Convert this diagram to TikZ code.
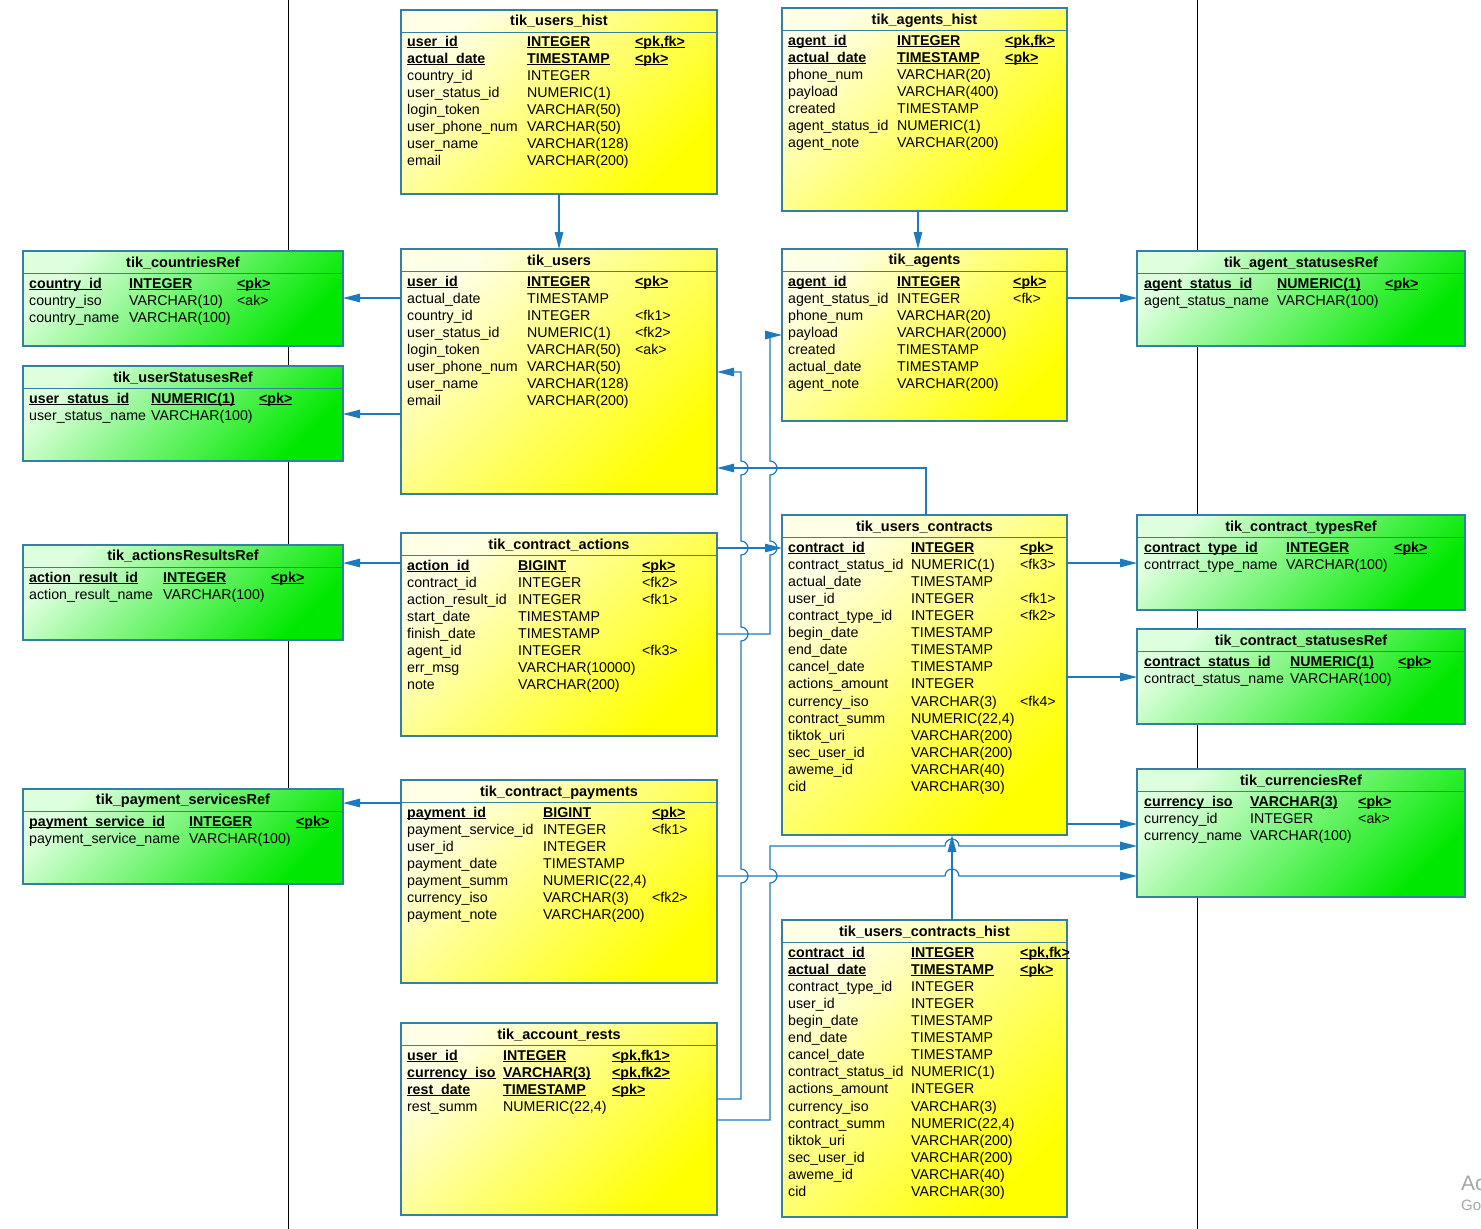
\documentclass[tikz,border=0pt]{standalone}
\usepackage{fontspec}
\setmainfont{Liberation Sans}
\usetikzlibrary{arrows.meta}
\definecolor{erb}{RGB}{52,128,160}
\definecolor{conn}{RGB}{30,122,190}
\definecolor{ylo}{RGB}{255,255,0}
\definecolor{ylight}{RGB}{255,255,230}
\definecolor{gdark}{RGB}{0,232,0}
\definecolor{glight}{RGB}{222,255,222}
\newsavebox\ulbox
\newcommand{\ulx}[1]{\leavevmode\sbox\ulbox{#1}\rlap{\rule[-2pt]{\wd\ulbox}{1.1pt}}\usebox\ulbox}
\newcommand{\pk}[1]{\ulx{\textbf{#1}}}
\tikzset{
  tbl/.style={draw=erb, line width=1.2pt, rectangle, inner sep=0pt, outer sep=0pt, anchor=north west},
  ytbl/.style={tbl, top color=ylight, bottom color=ylo, shading angle=45},
  gtbl/.style={tbl, top color=glight, bottom color=gdark, shading angle=45},
  sepline/.style={draw=erb, line width=1pt},
  ttl/.style={inner sep=0pt, anchor=base, font=\fontsize{14.5}{17}\selectfont\bfseries},
  body/.style={inner sep=0pt, anchor=north west, font=\fontsize{14.2}{17.1}\selectfont},
  fk/.style={draw=conn, line width=1.2pt, -{Triangle[length=17pt,width=8.5pt]}},
  pageline/.style={draw=black, line width=1pt},
  wm/.style={inner sep=0pt, anchor=base west, text=black!35}
}
\newcommand{\ertable}[8]{%
  \node[#2, minimum width={(#5-#3)*1pt}, minimum height={(#6-#4)*1pt}] (#1) at (#3,#4) {};
  \draw[sepline] (#3,#4+22) -- (#5,#4+22);
  \node[ttl] (#1-t) at ({(#3+#5)/2},#8+5) {#7};
}
\newcommand{\erbody}[6]{%
  \node[body] (#1-b) at (#2,#5-7) {\begin{tabular}{@{}p{#3pt}@{}p{#4pt}@{}l@{}}#6\end{tabular}};
}
\begin{document}
\begin{tikzpicture}[x=1pt,y=-1pt]
\fill[white] (0,0) rectangle (1481,1229);
\useasboundingbox (0,0) rectangle (1481,1229);
\draw[pageline] (288,0) -- (288,1229);
\draw[pageline] (1197,0) -- (1197,1229);

% ---------- tables ----------
\ertable{uhist}{ytbl}{401}{10}{717}{194}{tik\_users\_hist}{20}
\erbody{uhist}{407}{120}{108}{41}{%
\pk{user\_id} & \pk{INTEGER} & \pk{<pk,fk>}\\
\pk{actual\_date} & \pk{TIMESTAMP} & \pk{<pk>}\\
country\_id & INTEGER & \\
user\_status\_id & NUMERIC(1) & \\
login\_token & VARCHAR(50) & \\
user\_phone\_num & VARCHAR(50) & \\
user\_name & VARCHAR(128) & \\
email & VARCHAR(200) & }

\ertable{ahist}{ytbl}{782}{8}{1067}{211}{tik\_agents\_hist}{19}
\erbody{ahist}{788}{109}{108}{40}{%
\pk{agent\_id} & \pk{INTEGER} & \pk{<pk,fk>}\\
\pk{actual\_date} & \pk{TIMESTAMP} & \pk{<pk>}\\
phone\_num & VARCHAR(20) & \\
payload & VARCHAR(400) & \\
created & TIMESTAMP & \\
agent\_status\_id & NUMERIC(1) & \\
agent\_note & VARCHAR(200) & }

\ertable{ctry}{gtbl}{23}{251}{343}{346}{tik\_countriesRef}{262}
\erbody{ctry}{29}{100}{108}{283}{%
\pk{country\_id} & \pk{INTEGER} & \pk{<pk>}\\
country\_iso & VARCHAR(10) & <ak>\\
country\_name & VARCHAR(100) & }

\ertable{ustat}{gtbl}{23}{366}{343}{461}{tik\_userStatusesRef}{377}
\erbody{ustat}{29}{122}{108}{398}{%
\pk{user\_status\_id} & \pk{NUMERIC(1)} & \pk{<pk>}\\
user\_status\_name & VARCHAR(100) & }

\ertable{users}{ytbl}{401}{249}{717}{494}{tik\_users}{260}
\erbody{users}{407}{120}{108}{281}{%
\pk{user\_id} & \pk{INTEGER} & \pk{<pk>}\\
actual\_date & TIMESTAMP & \\
country\_id & INTEGER & <fk1>\\
user\_status\_id & NUMERIC(1) & <fk2>\\
login\_token & VARCHAR(50) & <ak>\\
user\_phone\_num & VARCHAR(50) & \\
user\_name & VARCHAR(128) & \\
email & VARCHAR(200) & }

\ertable{agents}{ytbl}{782}{249}{1067}{421}{tik\_agents}{259}
\erbody{agents}{788}{109}{116}{281}{%
\pk{agent\_id} & \pk{INTEGER} & \pk{<pk>}\\
agent\_status\_id & INTEGER & <fk>\\
phone\_num & VARCHAR(20) & \\
payload & VARCHAR(2000) & \\
created & TIMESTAMP & \\
actual\_date & TIMESTAMP & \\
agent\_note & VARCHAR(200) & }

\ertable{astat}{gtbl}{1137}{251}{1465}{346}{tik\_agent\_statusesRef}{262}
\erbody{astat}{1144}{133}{108}{283}{%
\pk{agent\_status\_id} & \pk{NUMERIC(1)} & \pk{<pk>}\\
agent\_status\_name & VARCHAR(100) & }

\ertable{actres}{gtbl}{23}{545}{343}{640}{tik\_actionsResultsRef}{555}
\erbody{actres}{29}{134}{108}{577}{%
\pk{action\_result\_id} & \pk{INTEGER} & \pk{<pk>}\\
action\_result\_name & VARCHAR(100) & }

\ertable{actions}{ytbl}{401}{533}{717}{736}{tik\_contract\_actions}{544}
\erbody{actions}{407}{111}{124}{565}{%
\pk{action\_id} & \pk{BIGINT} & \pk{<pk>}\\
contract\_id & INTEGER & <fk2>\\
action\_result\_id & INTEGER & <fk1>\\
start\_date & TIMESTAMP & \\
finish\_date & TIMESTAMP & \\
agent\_id & INTEGER & <fk3>\\
err\_msg & VARCHAR(10000) & \\
note & VARCHAR(200) & }

\ertable{contracts}{ytbl}{782}{515}{1067}{835}{tik\_users\_contracts}{526}
\erbody{contracts}{788}{123}{109}{547}{%
\pk{contract\_id} & \pk{INTEGER} & \pk{<pk>}\\
contract\_status\_id & NUMERIC(1) & <fk3>\\
actual\_date & TIMESTAMP & \\
user\_id & INTEGER & <fk1>\\
contract\_type\_id & INTEGER & <fk2>\\
begin\_date & TIMESTAMP & \\
end\_date & TIMESTAMP & \\
cancel\_date & TIMESTAMP & \\
actions\_amount & INTEGER & \\
currency\_iso & VARCHAR(3) & <fk4>\\
contract\_summ & NUMERIC(22,4) & \\
tiktok\_uri & VARCHAR(200) & \\
sec\_user\_id & VARCHAR(200) & \\
aweme\_id & VARCHAR(40) & \\
cid & VARCHAR(30) & }

\ertable{ctypes}{gtbl}{1137}{515}{1465}{610}{tik\_contract\_typesRef}{526}
\erbody{ctypes}{1144}{142}{108}{547}{%
\pk{contract\_type\_id} & \pk{INTEGER} & \pk{<pk>}\\
contrract\_type\_name & VARCHAR(100) & }

\ertable{cstat}{gtbl}{1137}{629}{1465}{724}{tik\_contract\_statusesRef}{640}
\erbody{cstat}{1144}{146}{108}{661}{%
\pk{contract\_status\_id} & \pk{NUMERIC(1)} & \pk{<pk>}\\
contract\_status\_name & VARCHAR(100) & }

\ertable{curr}{gtbl}{1137}{769}{1465}{897}{tik\_currenciesRef}{780}
\erbody{curr}{1144}{106}{108}{801}{%
\pk{currency\_iso} & \pk{VARCHAR(3)} & \pk{<pk>}\\
currency\_id & INTEGER & <ak>\\
currency\_name & VARCHAR(100) & }

\ertable{paysrv}{gtbl}{23}{789}{343}{884}{tik\_payment\_servicesRef}{799}
\erbody{paysrv}{29}{160}{107}{821}{%
\pk{payment\_service\_id} & \pk{INTEGER} & \pk{<pk>}\\
payment\_service\_name & VARCHAR(100) & }

\ertable{payments}{ytbl}{401}{780}{717}{983}{tik\_contract\_payments}{791}
\erbody{payments}{407}{136}{109}{812}{%
\pk{payment\_id} & \pk{BIGINT} & \pk{<pk>}\\
payment\_service\_id & INTEGER & <fk1>\\
user\_id & INTEGER & \\
payment\_date & TIMESTAMP & \\
payment\_summ & NUMERIC(22,4) & \\
currency\_iso & VARCHAR(3) & <fk2>\\
payment\_note & VARCHAR(200) & }

\ertable{rests}{ytbl}{401}{1023}{717}{1215}{tik\_account\_rests}{1034}
\erbody{rests}{407}{96}{109}{1055}{%
\pk{user\_id} & \pk{INTEGER} & \pk{<pk,fk1>}\\
\pk{currency\_iso} & \pk{VARCHAR(3)} & \pk{<pk,fk2>}\\
\pk{rest\_date} & \pk{TIMESTAMP} & \pk{<pk>}\\
rest\_summ & NUMERIC(22,4) & }

\ertable{chist}{ytbl}{782}{920}{1067}{1217}{tik\_users\_contracts\_hist}{931}
\erbody{chist}{788}{123}{109}{952}{%
\pk{contract\_id} & \pk{INTEGER} & \pk{<pk,fk>}\\
\pk{actual\_date} & \pk{TIMESTAMP} & \pk{<pk>}\\
contract\_type\_id & INTEGER & \\
user\_id & INTEGER & \\
begin\_date & TIMESTAMP & \\
end\_date & TIMESTAMP & \\
cancel\_date & TIMESTAMP & \\
contract\_status\_id & NUMERIC(1) & \\
actions\_amount & INTEGER & \\
currency\_iso & VARCHAR(3) & \\
contract\_summ & NUMERIC(22,4) & \\
tiktok\_uri & VARCHAR(200) & \\
sec\_user\_id & VARCHAR(200) & \\
aweme\_id & VARCHAR(40) & \\
cid & VARCHAR(30) & }

% ---------- connectors ----------
\draw[fk] (uhist.south) -- (users.north);
\draw[fk] (918,0 |- ahist.south) -- (918,0 |- agents.north);
\draw[fk] (users.west |- 0,298) -- (ctry.east |- 0,298);
\draw[fk] (users.west |- 0,414) -- (ustat.east |- 0,414);
\draw[fk] (agents.east |- 0,298) -- (astat.west |- 0,298);
\draw[fk] (actions.west |- 0,563) -- (actres.east |- 0,563);
\draw[fk] (payments.west |- 0,803) -- (paysrv.east |- 0,803);
\draw[fk] (contracts.east |- 0,563) -- (ctypes.west |- 0,563);
\draw[fk] (contracts.east |- 0,677) -- (cstat.west |- 0,677);
\draw[fk] (contracts.east |- 0,824) -- (curr.west |- 0,824);
\draw[fk] (952,0 |- chist.north) -- (952,0 |- contracts.south);
\draw[fk] (926,0 |- contracts.north) -- (926,468) -- (users.east |- 0,468);
\draw[fk] (actions.east |- 0,548) -- (contracts.west |- 0,548);
\draw[fk] (actions.east |- 0,634) -- (770,634) -- (770,555)
  arc[start angle=-90,end angle=90,radius=7pt] -- (770,475)
  arc[start angle=-90,end angle=90,radius=7pt] -- (770,335) -- (agents.west |- 0,335);
\draw[fk] (rests.east |- 0,1099) -- (741,1099) -- (741,883)
  arc[start angle=-90,end angle=90,radius=7pt] -- (741,641)
  arc[start angle=-90,end angle=90,radius=7pt] -- (741,555)
  arc[start angle=-90,end angle=90,radius=7pt] -- (741,475)
  arc[start angle=-90,end angle=90,radius=7pt] -- (741,372) -- (users.east |- 0,372);
\draw[fk] (rests.east |- 0,1120) -- (770,1120) -- (770,883)
  arc[start angle=-90,end angle=90,radius=7pt] -- (770,846) -- (945,846)
  arc[start angle=180,end angle=0,radius=7pt] -- (curr.west |- 0,846);
\draw[fk] (payments.east |- 0,876) -- (945,876)
  arc[start angle=180,end angle=0,radius=7pt] -- (curr.west |- 0,876);

% ---------- watermark remnants ----------
\node[wm, font=\fontsize{21}{24}\selectfont] (wmA) at (1461,1190) {Ac};
\node[wm, font=\fontsize{15}{18}\selectfont] (wmB) at (1461,1210) {Go};
\end{tikzpicture}
\end{document}
